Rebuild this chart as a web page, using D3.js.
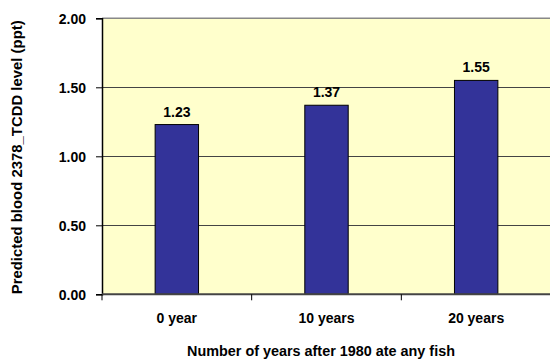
<!DOCTYPE html>
<html>
<head>
<meta charset="utf-8">
<script src="https://cdn.jsdelivr.net/npm/d3@7"></script>
<style>
  html, body { margin: 0; padding: 0; background: #fff; }
  svg { display: block; }
  text { font-family: "Liberation Sans", Arial, sans-serif; font-weight: bold; fill: #000; }
</style>
</head>
<body>
<script>
// Predicted blood 2378_TCDD level by years after 1980 eating any fish
const categories = ["0 year", "10 years", "20 years"];
const values = [1.23, 1.37, 1.55];
const yTicks = [0, 0.5, 1.0, 1.5, 2.0];
const yTitle = "Predicted blood 2378_TCDD level (ppt)";
const xTitle = "Number of years after 1980 ate any fish";

const W = 550, H = 360;
const plot = { left: 102, right: 551, top: 18.3, bottom: 294.3 };

const svg = d3.select("body").append("svg")
  .attr("width", W).attr("height", H);

const x = d3.scaleBand()
  .domain(categories)
  .range([plot.left, plot.right])
  .paddingInner(0.71)
  .paddingOuter(0.355);

const y = d3.scaleLinear()
  .domain([0, 2])
  .range([plot.bottom, plot.top]);

// plot background
svg.append("rect")
  .attr("x", plot.left).attr("y", plot.top)
  .attr("width", plot.right - plot.left)
  .attr("height", plot.bottom - plot.top)
  .attr("fill", "#ffffcc");

// horizontal gridlines
svg.append("g")
  .selectAll("line")
  .data(yTicks.filter(d => d > 0 && d < 2))
  .join("line")
  .attr("x1", plot.left).attr("x2", plot.right)
  .attr("y1", d => Math.round(y(d)) + 0.5).attr("y2", d => Math.round(y(d)) + 0.5)
  .attr("stroke", "#444").attr("stroke-width", 1);

// top border
svg.append("line")
  .attr("x1", plot.left).attr("x2", plot.right)
  .attr("y1", y(2)).attr("y2", y(2))
  .attr("stroke", "#888").attr("stroke-width", 1.5);

// bars
svg.append("g")
  .selectAll("rect")
  .data(values)
  .join("rect")
  .attr("x", (d, i) => x(categories[i]))
  .attr("y", d => y(d))
  .attr("width", x.bandwidth())
  .attr("height", d => y(0) - y(d))
  .attr("fill", "#333399")
  .attr("stroke", "#000")
  .attr("stroke-width", 1);

// value labels
svg.append("g")
  .selectAll("text")
  .data(values)
  .join("text")
  .attr("x", (d, i) => x(categories[i]) + x.bandwidth() / 2)
  .attr("y", d => y(d) - 8)
  .attr("text-anchor", "middle")
  .attr("font-size", 14)
  .text(d => d3.format(".2f")(d));

// y axis
const yAxis = svg.append("g")
  .attr("transform", `translate(${plot.left},0)`)
  .call(d3.axisLeft(y).tickValues(yTicks).tickFormat(d3.format(".2f")).tickSize(6).tickPadding(10));
yAxis.select(".domain").attr("stroke", "#000").attr("stroke-width", 1.5);
yAxis.selectAll(".tick line").attr("stroke", "#000");
yAxis.selectAll(".tick text")
  .attr("font-size", 14)
  .attr("font-family", "Liberation Sans, Arial, sans-serif")
  .attr("font-weight", "bold")
  .attr("dy", "0.38em");

// x axis: ticks sit on the category boundaries
const boundaries = [plot.left, ...categories.map(c => x(c) + x.bandwidth() / 2 + x.step() / 2)];
svg.append("line")
  .attr("x1", plot.left).attr("x2", plot.right)
  .attr("y1", plot.bottom).attr("y2", plot.bottom)
  .attr("stroke", "#444").attr("stroke-width", 2);
svg.append("g")
  .selectAll("line")
  .data(boundaries)
  .join("line")
  .attr("x1", d => d).attr("x2", d => d)
  .attr("y1", plot.bottom).attr("y2", plot.bottom + 6)
  .attr("stroke", "#000");

svg.append("g")
  .selectAll("text")
  .data(categories)
  .join("text")
  .attr("x", d => x(d) + x.bandwidth() / 2)
  .attr("y", 323)
  .attr("text-anchor", "middle")
  .attr("font-size", 14)
  .text(d => d);

// axis titles
svg.append("text")
  .attr("x", 321).attr("y", 356)
  .attr("text-anchor", "middle")
  .attr("font-size", 14.4)
  .text(xTitle);

svg.append("text")
  .attr("transform", `translate(22,157.3) rotate(-90)`)
  .attr("text-anchor", "middle")
  .attr("font-size", 14.9)
  .text(yTitle);
</script>
</body>
</html>
